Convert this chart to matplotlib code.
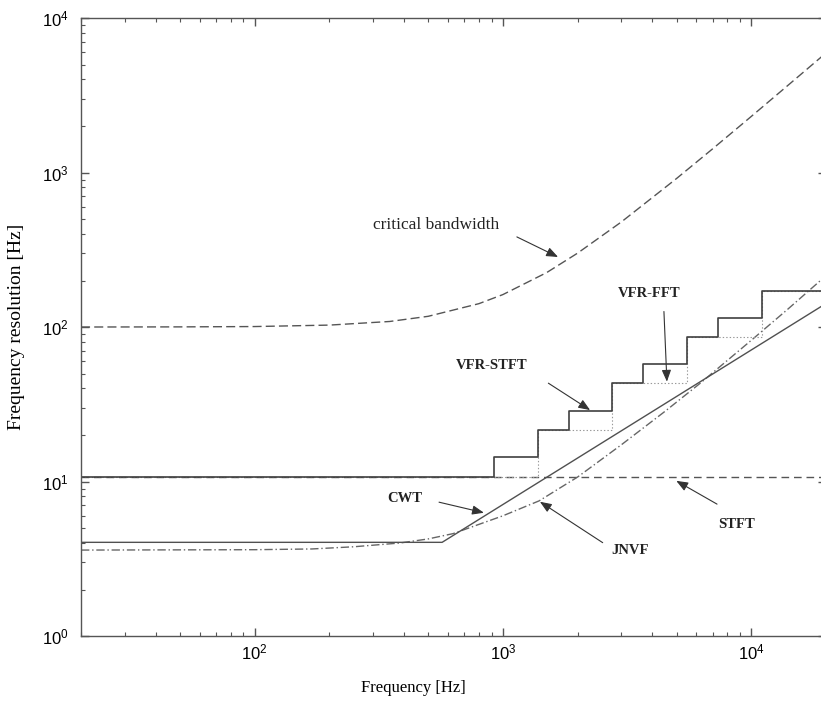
import numpy as np
import matplotlib.pyplot as plt
from matplotlib import ticker

plt.rcParams['lines.scale_dashes'] = False
plt.rcParams['font.family'] = ['Liberation Sans', 'DejaVu Sans']
plt.rcParams['mathtext.default'] = 'regular'

# critical bandwidth
cb_freq = [20, 50, 100, 200, 350, 500, 800, 1000, 1500, 2000, 3000, 5000, 7000, 10000, 14000, 20000]
cb_res = [100, 100.2, 100.7, 102.9, 108.6, 117.3, 141.6, 162.2, 225, 301, 479, 914, 1426, 2306, 3647, 5940]

# JNVF (dash-dot curve)
jnvf_freq = [20, 100, 170, 250, 385, 500, 630, 1000, 1400, 2000, 3000, 4500, 6200, 10000, 14000, 20000]
jnvf_res = [3.6, 3.62, 3.66, 3.78, 4.0, 4.25, 4.6, 6.0, 7.5, 10.7, 17.3, 28.5, 43, 82, 130, 215]

# CWT (solid, flat then constant-Q)
cwt_freq = [20, 569, 20000]
cwt_res = [4.04, 4.04, 142]

# STFT (flat dashed)
stft_freq = [20, 20000]
stft_res = [10.77, 10.77]

# VFR-STFT staircase (solid)
vfr_stft_freq = [20, 920, 1380, 1840, 2760, 3680, 5520, 7360, 11040, 20000]
vfr_stft_res = [10.77, 14.36, 21.5, 28.7, 43.1, 57.4, 86.1, 114.8, 172.3, 172.3]

# VFR-FFT staircase (dotted)
vfr_fft_freq = [20, 1380, 2760, 5520, 11040, 20000]
vfr_fft_res = [10.77, 21.5, 43.1, 86.1, 172.3, 172.3]

fig = plt.figure(figsize=(8.21, 7.01), dpi=100)
# right edge of the axes sits just past the picture, as in the cropped original
ax = fig.add_axes([0.0987, 0.0927, 0.9074, 0.8816])

ax.plot(cb_freq, cb_res, color='#555555', lw=1.0, linestyle=(0, (6.5, 3.0)))
ax.plot(stft_freq, stft_res, color='#555555', lw=1.0, linestyle=(0, (5.5, 3.5)))
ax.plot(jnvf_freq, jnvf_res, color='#666666', lw=1.0, linestyle=(0, (6.0, 2.0, 1.0, 2.0)))
ax.step(vfr_fft_freq, vfr_fft_res, where='post', color='#999999', lw=0.8,
        linestyle=(0, (1.0, 1.5)))
ax.plot(cwt_freq, cwt_res, color='#505050', lw=1.0)
ax.step(vfr_stft_freq, vfr_stft_res, where='post', color='#404040', lw=1.2)

ax.set_xscale('log')
ax.set_yscale('log')
ax.set_xlim(20, 20000)
ax.set_ylim(1, 1e4)

ax.xaxis.set_major_locator(ticker.LogLocator(base=10))
ax.yaxis.set_major_locator(ticker.LogLocator(base=10))
ax.xaxis.set_minor_formatter(ticker.NullFormatter())
ax.yaxis.set_minor_formatter(ticker.NullFormatter())
ax.tick_params(which='both', direction='in', top=True, right=True, color='#555555')
ax.tick_params(which='major', length=5.5, width=1.0, labelsize=12)
ax.tick_params(which='minor', length=3.0, width=0.8)
ax.tick_params(axis='y', which='major', pad=9)
ax.tick_params(axis='x', which='major', pad=5)

for s in ax.spines.values():
    s.set_color('#555555')
    s.set_linewidth(1.0)

ax.set_xlabel('Frequency [Hz]', family='Liberation Serif', fontsize=12)
ax.set_ylabel('Frequency resolution [Hz]', family='Liberation Serif', fontsize=14)
ax.xaxis.set_label_coords(0.4456, -0.071)
ax.yaxis.set_label_coords(-0.075, 0.5)

# labels: text, text position, arrow start, arrow tip
notes = [
    ('critical bandwidth', (537, 457), (1138, 383), (1667, 284), 'normal', 12.5),
    ('VFR-FFT', (3882, 164), (4450, 126), (4575, 44.3), 'bold', 10.5),
    ('VFR-STFT', (903, 56), (1524, 43.3), (2244, 29), 'bold', 10.5),
    ('CWT', (403, 7.8), (553, 7.35), (838, 6.28), 'bold', 10.5),
    ('JNVF', (3251, 3.6), (2522, 4.02), (1409, 7.4), 'bold', 10.5),
    ('STFT', (8710, 5.3), (7280, 7.14), (4990, 10.1), 'bold', 10.5),
]
for label, txt, start, tip, weight, size in notes:
    ax.text(txt[0], txt[1], label, ha='center', va='center', family='Liberation Serif',
            fontsize=size, fontweight=weight, color='#222222')
    ax.annotate('', xy=tip, xytext=start,
                arrowprops=dict(arrowstyle='-|>,head_length=0.5,head_width=0.2',
                                mutation_scale=14, color='#333333', lw=0.8,
                                shrinkA=0, shrinkB=0))

fig.savefig('out.png', dpi=100)
